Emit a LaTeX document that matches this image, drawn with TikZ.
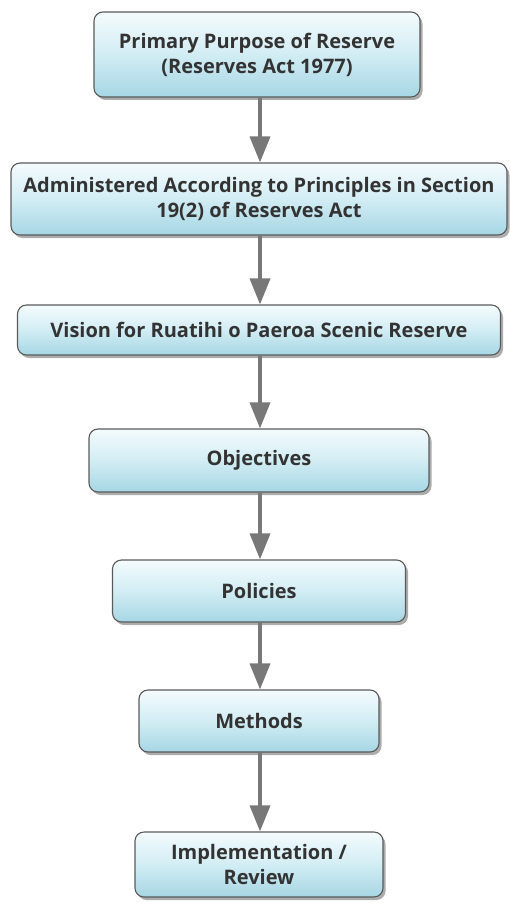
\documentclass[tikz,border=0pt]{standalone}
\usepackage{fontspec}
\setmainfont{Open Sans}
\usetikzlibrary{arrows.meta,shadows}
\definecolor{boxtop}{HTML}{F4FBFD}
\definecolor{boxmid}{HTML}{D2EDF4}
\definecolor{boxbot}{HTML}{A6D6E4}
\definecolor{boxline}{HTML}{5A5A5A}
\definecolor{arrowgray}{HTML}{787878}
\definecolor{txt}{HTML}{333333}
\begin{document}
\begin{tikzpicture}[x=1pt,y=-1pt,
  box/.style={draw=boxline, line width=1.1pt, rounded corners=9pt,
    top color=boxtop, bottom color=boxbot, middle color=boxmid,
    drop shadow={shadow xshift=2.5pt, shadow yshift=-3pt, fill=black!50, opacity=.65},
    font=\bfseries\fontsize{20}{25}\selectfont, text=txt, align=center, inner sep=0pt},
  flow/.style={draw=arrowgray, line width=3.5pt, -{Triangle[width=20pt,length=26pt]}}]
\useasboundingbox (0,0) rectangle (510,904);
\node[box, minimum width=326pt, minimum height=85pt] (p1) at (257,54.5) {Primary Purpose of Reserve\\(Reserves Act 1977)};
\node[box, minimum width=496pt, minimum height=72pt] (p2) at (259,199) {Administered According to Principles in Section\\19(2) of Reserves Act};
\node[box, minimum width=483pt, minimum height=50pt] (p3) at (259,330) {Vision for Ruatihi o Paeroa Scenic Reserve};
\node[box, minimum width=340pt, minimum height=63pt] (p4) at (259,460.5) {Objectives};
\node[box, minimum width=293pt, minimum height=62pt] (p5) at (259,591) {Policies};
\node[box, minimum width=240pt, minimum height=62pt] (p6) at (259,721) {Methods};
\node[box, minimum width=248pt, minimum height=65pt] (p7) at (259,864.5) {Implementation /\\Review};
\draw[flow] (p1.south -| 260,0) -- (p2.north -| 260,0);
\draw[flow] (p2.south -| 260,0) -- (p3.north -| 260,0);
\draw[flow] (p3.south -| 260,0) -- (p4.north -| 260,0);
\draw[flow] (p4.south -| 260,0) -- (p5.north -| 260,0);
\draw[flow] (p5.south -| 260,0) -- (p6.north -| 260,0);
\draw[flow] (p6.south -| 260,0) -- (p7.north -| 260,0);
\end{tikzpicture}
\end{document}
